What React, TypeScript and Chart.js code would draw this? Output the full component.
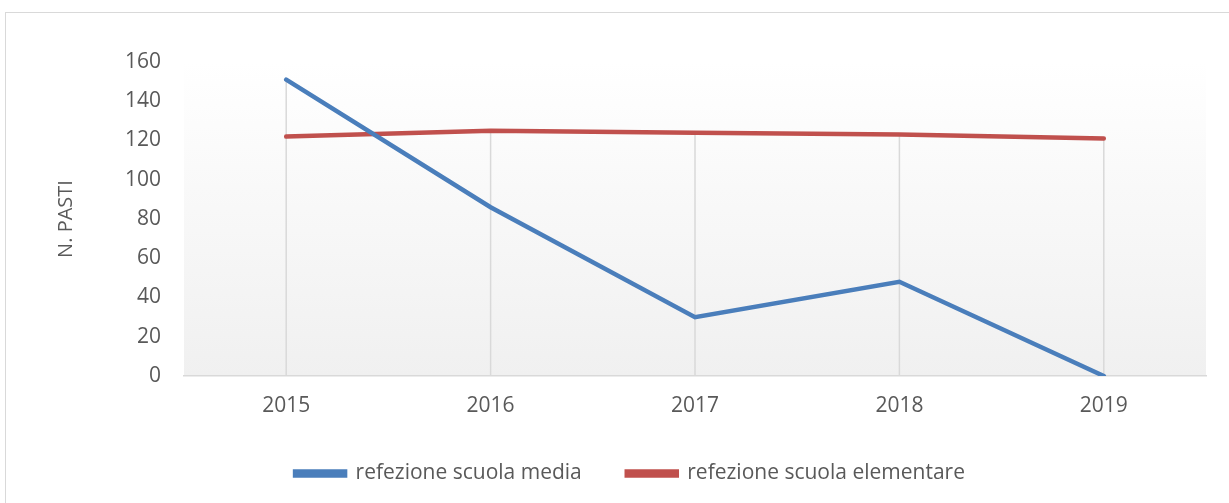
import React, { useEffect, useRef } from "react";
import { Chart, registerables } from "chart.js";

Chart.register(...registerables);

const years = ["2015", "2016", "2017", "2018", "2019"];
const scuolaMedia = [151, 86, 30, 48, 0];
const scuolaElementare = [122, 125, 124, 123, 121];
const yTicks = [0, 20, 40, 60, 80, 100, 120, 140, 160];

const FONT = "'Open Sans', 'Noto Sans', sans-serif";
const TEXT = "#595959";

const bgPlugin = {
  id: "plotBg",
  beforeDraw(chart: any) {
    const { ctx, chartArea } = chart;
    const g = ctx.createLinearGradient(0, chartArea.top, 0, chartArea.bottom);
    g.addColorStop(0, "#ffffff");
    g.addColorStop(1, "#f0f0f0");
    ctx.save();
    ctx.fillStyle = g;
    ctx.fillRect(chartArea.left, chartArea.top, chartArea.right - chartArea.left, chartArea.bottom - chartArea.top);
    ctx.restore();
  },
};

const dropLines = {
  id: "dropLines",
  beforeDatasetsDraw(chart: any) {
    const { ctx, scales } = chart;
    const x = scales.x;
    const y = scales.y;
    ctx.save();
    ctx.strokeStyle = "#d9d9d9";
    ctx.lineWidth = 1.5;
    years.forEach((_, i) => {
      let maxV = -Infinity;
      chart.data.datasets.forEach((ds: any) => {
        if (ds.data[i] > maxV) maxV = ds.data[i];
      });
      const px = x.getPixelForValue(i);
      ctx.beginPath();
      ctx.moveTo(px, y.getPixelForValue(maxV));
      ctx.lineTo(px, y.getPixelForValue(0));
      ctx.stroke();
    });
    ctx.restore();
  },
};

export default function App() {
  const ref = useRef<HTMLCanvasElement>(null);
  useEffect(() => {
    if (!ref.current) return;
    const chart = new Chart(ref.current, {
      type: "line",
      data: {
        labels: years,
        datasets: [
          {
            label: "refezione scuola media",
            data: scuolaMedia,
            borderColor: "#4a7ebb",
            backgroundColor: "#4a7ebb",
            borderWidth: 4.5,
            pointRadius: 0,
            tension: 0,
            borderCapStyle: "round",
          },
          {
            label: "refezione scuola elementare",
            data: scuolaElementare,
            borderColor: "#c0504d",
            backgroundColor: "#c0504d",
            borderWidth: 4.5,
            pointRadius: 0,
            tension: 0,
            borderCapStyle: "round",
          },
        ],
      },
      options: {
        animation: false,
        responsive: false,
        maintainAspectRatio: false,
        layout: { padding: { top: 62, right: 23, left: 54, bottom: 9 } },
        plugins: {
          tooltip: { enabled: false },
          legend: {
            position: "bottom",
            labels: {
              font: { family: FONT, size: 21 },
              color: TEXT,
              boxWidth: 50,
              boxHeight: 4,
              padding: 45,
            },
          },
        },
        scales: {
          x: {
            offset: true,
            grid: { display: false, drawTicks: false },
            border: { display: true, color: "#d9d9d9", width: 1.5 },
            ticks: { font: { family: FONT, size: 21 }, color: TEXT, padding: 17 },
            afterFit(scale: any) {
              scale.height = 42;
            },
          },
          y: {
            min: 0,
            max: 160,
            afterBuildTicks(scale: any) {
              scale.ticks = yTicks.map((v) => ({ value: v }));
            },
            grid: { display: false, drawTicks: false },
            border: { display: false },
            ticks: { font: { family: FONT, size: 21 }, color: TEXT, padding: 23 },
            title: {
              display: true,
              text: "N. PASTI",
              font: { family: FONT, size: 20 },
              color: TEXT,
              padding: 0,
            },
            afterFit(scale: any) {
              scale.width = 130;
            },
          },
        },
      },
      plugins: [bgPlugin, dropLines],
    });
    return () => chart.destroy();
  }, []);

  return (
    <div style={{ position: "fixed", left: 0, top: 0, width: 1229, height: 503, overflow: "hidden", background: "#fff" }}>
      <div
        style={{
          position: "absolute",
          left: 5,
          top: 12,
          width: 1240,
          height: 520,
          border: "1.5px solid #d9d9d9",
        }}
      />
      <canvas ref={ref} width={1229} height={503} style={{ position: "absolute", left: 0, top: 0 }} />
    </div>
  );
}
